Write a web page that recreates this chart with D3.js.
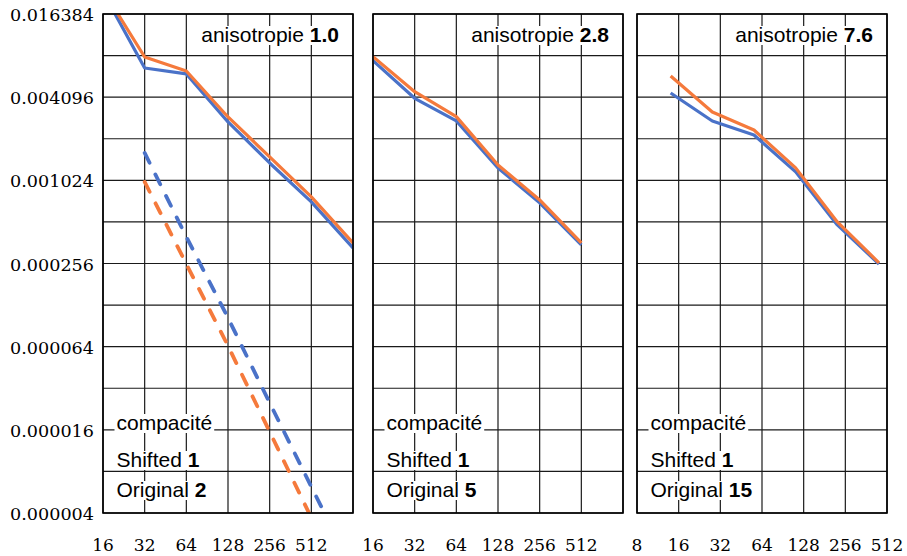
<!DOCTYPE html>
<html>
<head>
<meta charset="utf-8">
<script src="https://cdn.jsdelivr.net/npm/d3@7"></script>
<style>
  html, body { margin: 0; padding: 0; background: #fff; }
  svg { display: block; }
  text.serif { font-family: "DejaVu Serif", "Noto Serif", serif; }
  text.sans { font-family: "Liberation Sans", Arial, sans-serif; }
</style>
</head>
<body>
<svg id="chart" width="907" height="556"></svg>
<script>
// Error versus mesh size, log2/log2, three anisotropy levels.
const anisotropies = ["1.0", "2.8", "7.6"];
const compactShifted = [1, 1, 1];
const compactOriginal = [2, 5, 15];

const yTickValues = [0.016384, 0.004096, 0.001024, 0.000256, 0.000064, 0.000016, 0.000004];
const yDomain = [0.000004, 0.016384];

const xDomain1 = [16, 1024];
const xDomain2 = [16, 1024];
const xDomain3 = [8, 512];
const xTicks1 = [16, 32, 64, 128, 256, 512, 1024];
const xTicks2 = [16, 32, 64, 128, 256, 512, 1024];
const xTicks3 = [8, 16, 32, 64, 128, 256, 512];
const xTickLabels1 = ["16", "32", "64", "128", "256", "512", ""];
const xTickLabels2 = ["16", "32", "64", "128", "256", "512", ""];
const xTickLabels3 = ["8", "16", "32", "64", "128", "256", "512"];

// anisotropie 1.0
const h1 = [16, 32, 64, 128, 256, 512, 1024];
const shiftedSolid1 = [0.02364, 0.006664, 0.006032, 0.00271, 0.001368, 0.000715, 0.000332];
const originalSolid1 = [0.02444, 0.0080, 0.00634, 0.002945, 0.001512, 0.000777, 0.000361];
const hDashedShifted1 = [32, 64, 128, 256, 512, 1024];
const shiftedDashed1 = [0.001617, 0.000399, 0.0001034, 0.0000251, 0.00000619, 0.00000155];
const hDashedOriginal1 = [32, 64, 128, 256, 512];
const originalDashed1 = [0.000997, 0.000254, 0.0000648, 0.0000155, 0.00000369];

// anisotropie 2.8
const h2 = [16, 32, 64, 128, 256, 512];
const shiftedSolid2 = [0.00752, 0.00402, 0.002755, 0.001259, 0.000703, 0.000349];
const originalSolid2 = [0.00804, 0.00449, 0.00296, 0.001323, 0.000739, 0.000361];

// anisotropie 7.6
const h3 = [14, 28, 56, 112, 224, 448];
const shiftedSolid3 = [0.00439, 0.002755, 0.00218, 0.00118, 0.000487, 0.000254];
const originalSolid3 = [0.00583, 0.0032, 0.00237, 0.00126, 0.000512, 0.000259];

const BLUE = "#4a72c8";
const ORANGE = "#f57a3c";

const zip = (xs, ys) => xs.map((x, i) => ({ x, y: ys[i] }));

const panels = [
  {
    left: 103, xDomain: xDomain1, xTicks: xTicks1, xLabels: xTickLabels1,
    series: [
      { pts: zip(h1, shiftedSolid1), color: BLUE, dashed: false },
      { pts: zip(h1, originalSolid1), color: ORANGE, dashed: false },
      { pts: zip(hDashedShifted1, shiftedDashed1), color: BLUE, dashed: true },
      { pts: zip(hDashedOriginal1, originalDashed1), color: ORANGE, dashed: true }
    ]
  },
  {
    left: 373, xDomain: xDomain2, xTicks: xTicks2, xLabels: xTickLabels2,
    series: [
      { pts: zip(h2, shiftedSolid2), color: BLUE, dashed: false },
      { pts: zip(h2, originalSolid2), color: ORANGE, dashed: false }
    ]
  },
  {
    left: 637, xDomain: xDomain3, xTicks: xTicks3, xLabels: xTickLabels3,
    series: [
      { pts: zip(h3, shiftedSolid3), color: BLUE, dashed: false },
      { pts: zip(h3, originalSolid3), color: ORANGE, dashed: false }
    ]
  }
];

const W = 250, TOP = 14, BOTTOM = 513;

const svg = d3.select("#chart");
const y = d3.scaleLog().base(2).domain(yDomain).range([BOTTOM, TOP]);
const yGrid = d3.range(2, 15).map(k => Math.pow(2, k) * 1e-6);

// y tick labels, first panel only
svg.append("g").selectAll("text").data(yTickValues).join("text")
  .attr("class", "serif")
  .attr("x", 94).attr("y", d => y(d) + 1)
  .attr("text-anchor", "end").attr("dominant-baseline", "central")
  .attr("textLength", 84).attr("lengthAdjust", "spacingAndGlyphs")
  .style("font-size", "17.5px").attr("fill", "#000")
  .text(d => d3.format(".6f")(d));

panels.forEach((p, i) => {
  const x = d3.scaleLog().base(2).domain(p.xDomain).range([p.left, p.left + W]);
  const g = svg.append("g");

  g.append("clipPath").attr("id", "clip" + i).append("rect")
    .attr("x", p.left).attr("y", TOP).attr("width", W).attr("height", BOTTOM - TOP);

  // grid
  const grid = g.append("g").attr("stroke", "#1a1a1a").attr("stroke-width", 1.2);
  grid.selectAll("line.v").data(p.xTicks).join("line").attr("class", "v")
    .attr("x1", d => x(d)).attr("x2", d => x(d)).attr("y1", TOP).attr("y2", BOTTOM);
  grid.selectAll("line.h").data(yGrid).join("line").attr("class", "h")
    .attr("x1", p.left).attr("x2", p.left + W).attr("y1", d => y(d)).attr("y2", d => y(d));

  // x tick labels
  g.append("g").selectAll("text").data(p.xTicks.map((t, j) => ({ t, label: p.xLabels[j] }))).join("text")
    .attr("class", "serif")
    .attr("x", d => x(d.t)).attr("y", 551).attr("text-anchor", "middle")
    .style("font-size", "17px").attr("fill", "#000")
    .text(d => d.label);

  // curves
  const line = d3.line().x(d => x(d.x)).y(d => y(d.y));
  g.append("g").attr("clip-path", `url(#clip${i})`)
    .selectAll("path").data(p.series).join("path")
    .attr("d", s => line(s.pts))
    .attr("fill", "none")
    .attr("stroke", s => s.color)
    .attr("stroke-width", s => s.dashed ? 3.8 : 3.2)
    .attr("stroke-linejoin", "round")
    .attr("stroke-linecap", s => s.dashed ? "round" : "butt")
    .attr("stroke-dasharray", s => s.dashed ? "11,13" : null);

  // labels with white background
  const labels = g.append("g");
  function boxedLabel(xPos, baseline, anchor, parts) {
    const grp = labels.append("g");
    const rect = grp.append("rect").attr("fill", "#fff");
    const t = grp.append("text").attr("class", "sans")
      .attr("x", xPos).attr("y", baseline)
      .attr("text-anchor", anchor)
      .style("font-size", "21px").attr("fill", "#000");
    parts.forEach(pt => t.append("tspan").style("font-weight", pt.bold ? "bold" : "normal").text(pt.text));
    const bb = t.node().getBBox();
    rect.attr("x", bb.x - 2).attr("width", bb.width + 4)
      .attr("y", baseline - 16).attr("height", bb.y + bb.height - 1 - (baseline - 16));
  }

  boxedLabel(p.left + W - 14, 42, "end",
    [{ text: "anisotropie " }, { text: anisotropies[i], bold: true }]);
  boxedLabel(p.left + 13.5, 430, "start", [{ text: "compacité" }]);
  boxedLabel(p.left + 13.5, 467, "start",
    [{ text: "Shifted " }, { text: String(compactShifted[i]), bold: true }]);
  boxedLabel(p.left + 13.5, 497, "start",
    [{ text: "Original " }, { text: String(compactOriginal[i]), bold: true }]);

  // frame
  g.append("rect").attr("x", p.left).attr("y", TOP).attr("width", W).attr("height", BOTTOM - TOP)
    .attr("fill", "none").attr("stroke", "#000").attr("stroke-width", 1.6);
});
</script>
</body>
</html>
